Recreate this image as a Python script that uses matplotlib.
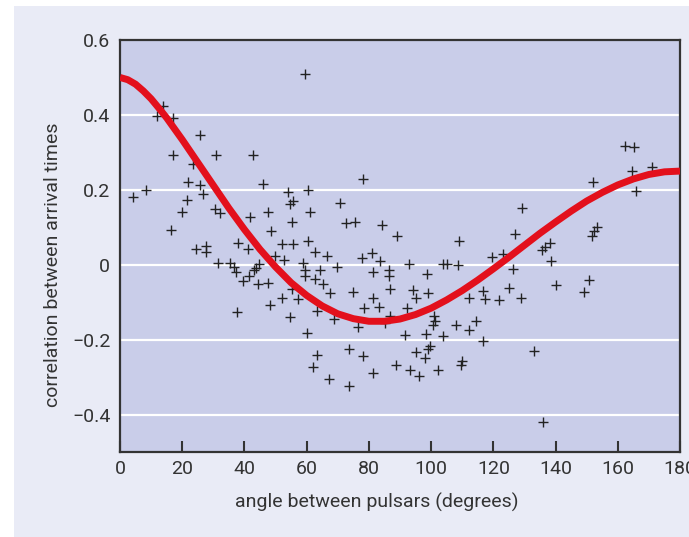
import matplotlib
matplotlib.use("Agg")
import matplotlib.pyplot as plt
from matplotlib.patches import Rectangle

# pulsar pairs: angle (deg) and measured correlation
angle = [4.1, 8.4, 11.8, 13.9, 16.3, 17.1, 17.1, 19.8, 21.4, 22.0,
         23.4, 24.4, 25.7, 25.7, 26.6, 27.6, 27.6, 30.5, 30.9, 31.6,
         32.1, 35.4, 36.6, 37.3, 37.5, 38.0, 39.4, 41.2, 41.6, 41.8,
         42.6, 43.1, 43.7, 44.5, 44.8, 46.1, 47.7, 47.7, 48.2, 48.4,
         49.8, 52.0, 52.2, 52.7, 54.1, 54.6, 54.6, 55.2, 55.2, 55.5,
         55.7, 57.3, 58.9, 59.5, 59.5, 59.5, 60.0, 60.5, 60.5, 61.1,
         62.1, 62.7, 62.7, 63.2, 63.4, 64.3, 65.2, 66.4, 67.3, 67.5,
         68.9, 69.9, 70.7, 72.6, 73.7, 73.7, 74.8, 75.5, 76.6, 77.7,
         78.0, 78.2, 78.5, 80.9, 81.2, 81.4, 81.4, 83.4, 83.6, 84.1,
         85.2, 86.6, 86.6, 86.8, 86.8, 88.6, 89.0, 91.6, 92.1, 93.0,
         93.2, 94.3, 95.1, 95.1, 96.2, 98.0, 98.4, 98.8, 99.1, 99.1,
         99.6, 100.7, 100.9, 101.3, 102.3, 103.7, 103.9, 105.0, 108.0, 108.5,
         109.0, 109.6, 109.8, 112.3, 112.3, 114.4, 116.6, 116.6, 117.3, 119.5,
         121.9, 123.0, 125.0, 126.4, 127.0, 128.9, 129.3, 133.2, 135.5, 136.7,
         138.2, 138.5, 136.1, 140.0, 149.2, 150.9, 151.6, 152.5, 153.2, 152.1,
         162.3, 165.2, 164.5, 165.8, 170.9]
corr = [0.180, 0.200, 0.397, 0.424, 0.093, 0.391, 0.292, 0.140, 0.172, 0.220,
        0.269, 0.042, 0.347, 0.213, 0.189, 0.049, 0.033, 0.149, 0.292, 0.004,
        0.138, 0.004, -0.006, -0.020, -0.126, 0.057, -0.044, 0.043, -0.029, 0.127,
        0.292, -0.015, -0.010, -0.051, 0.003, 0.216, 0.140, -0.049, -0.107, 0.089,
        0.024, 0.055, -0.089, 0.012, 0.194, 0.163, -0.140, 0.114, -0.065, 0.169,
        0.055, -0.091, 0.004, 0.508, -0.013, -0.029, -0.182, 0.200, 0.064, 0.140,
        -0.273, 0.034, -0.037, -0.240, -0.124, -0.013, -0.051, 0.022, -0.304, -0.076,
        -0.145, -0.007, 0.166, 0.111, -0.224, -0.324, -0.073, 0.114, -0.166, 0.018,
        -0.244, 0.228, -0.116, 0.031, -0.289, -0.020, -0.089, -0.114, 0.011, 0.107,
        -0.156, -0.015, -0.031, -0.064, -0.136, -0.267, 0.077, -0.187, -0.116, 0.002,
        -0.280, -0.067, -0.089, -0.234, -0.296, -0.249, -0.185, -0.024, -0.076, -0.225,
        -0.216, -0.160, -0.136, -0.151, -0.282, -0.189, 0.002, 0.002, -0.160, 0.000,
        0.064, -0.267, -0.256, -0.175, -0.089, -0.151, -0.203, -0.071, -0.091, 0.020,
        -0.093, 0.028, -0.062, -0.011, 0.083, -0.089, 0.151, -0.231, 0.038, 0.048,
        0.058, 0.011, -0.419, -0.053, -0.074, -0.040, 0.078, 0.089, 0.100, 0.222,
        0.318, 0.314, 0.249, 0.196, 0.260]

# expected curve
curve_angle = [0, 2.5, 5, 7.5, 10, 12.5, 15, 20, 25, 30, 35, 40, 45, 50, 55, 60, 65,
               70, 75, 80, 85, 90, 95, 100, 105, 110, 115, 120, 125, 130, 135, 140,
               145, 150, 155, 160, 165, 170, 175, 180]
curve_corr = [0.500, 0.494, 0.482, 0.464, 0.443, 0.418, 0.392, 0.334, 0.273, 0.212,
              0.151, 0.094, 0.041, -0.006, -0.048, -0.082, -0.110, -0.131, -0.144,
              -0.151, -0.151, -0.145, -0.133, -0.116, -0.094, -0.069, -0.041, -0.011,
              0.020, 0.052, 0.084, 0.114, 0.143, 0.170, 0.193, 0.213, 0.229, 0.241,
              0.248, 0.250]

xticks = [0, 20, 40, 60, 80, 100, 120, 140, 160, 180]
yticks = [-0.4, -0.2, 0, 0.2, 0.4, 0.6]
ytick_labels = ['\u22120.4', '\u22120.2', '0', '0.2', '0.4', '0.6']

plt.rcParams['font.family'] = ['Roboto', 'DejaVu Sans']
text_col = '#333333'

fig = plt.figure(figsize=(6.89, 5.37), dpi=100)
fig.patch.set_facecolor('white')
fig.patches.append(Rectangle((14 / 689, 0), 1, 531 / 537, transform=fig.transFigure,
                             facecolor='#e9ebf6', edgecolor='none', zorder=-10))

ax = fig.add_axes([120 / 689, 85 / 537, 560 / 689, 412 / 537])
ax.set_facecolor('#c9cde9')

for y in [-0.4, -0.2, 0, 0.2, 0.4]:
    ax.axhline(y, color='white', lw=1.6, zorder=1)

ax.plot(angle, corr, linestyle='none', marker='+', markersize=7, mew=1.0,
        color='#222222', zorder=3)
ax.plot(curve_angle, curve_corr, color='#e3101c', lw=5, solid_capstyle='butt',
        solid_joinstyle='round', zorder=4)

ax.set_xlim(0, 180)
ax.set_ylim(-0.5, 0.6)
ax.set_xticks(xticks)
ax.set_yticks(yticks)
ax.set_yticklabels(ytick_labels)
ax.tick_params(axis='x', direction='in', length=8, width=1.5, color='#333333',
               labelsize=14, labelcolor=text_col, pad=6)
ax.tick_params(axis='y', length=0, labelsize=14, labelcolor=text_col, pad=7)

for s in ax.spines.values():
    s.set_color('#333333')
    s.set_linewidth(1.6)

ax.set_xlabel('angle between pulsars (degrees)', fontsize=14, color=text_col)
ax.set_ylabel('correlation between arrival times', fontsize=14, color=text_col)
ax.xaxis.set_label_coords(0.458, -0.098)
ax.yaxis.set_label_coords(-0.104, 0.454)

fig.savefig('out.png', dpi=100)
